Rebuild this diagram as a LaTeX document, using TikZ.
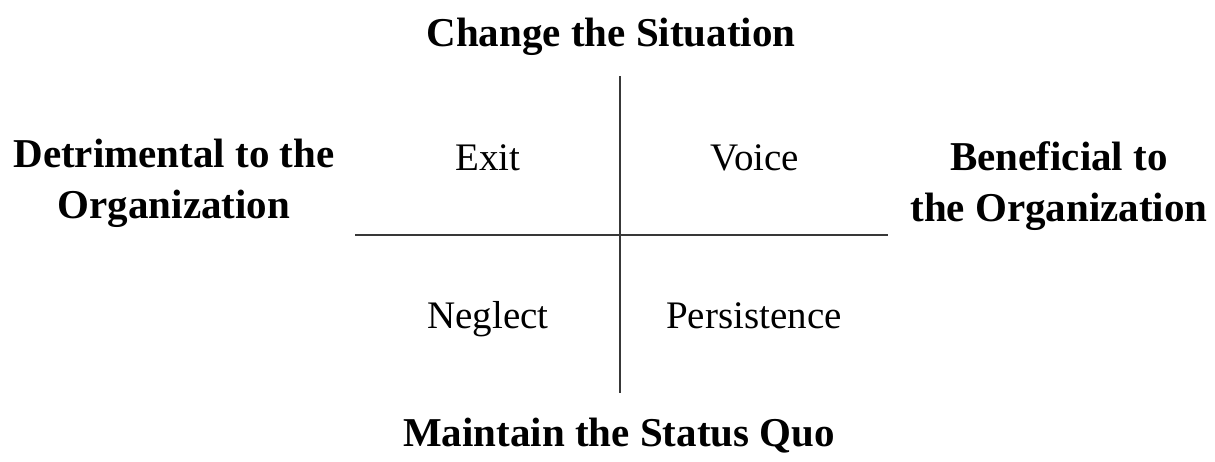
\documentclass[tikz,border=0pt]{standalone}
\usepackage{fontspec}
\setmainfont{Liberation Serif}
\begin{document}
\begin{tikzpicture}[x=1pt,y=-1pt,
  axis/.style={draw=black!78,line width=1.6pt},
  heading/.style={font=\fontsize{41}{51}\selectfont\bfseries,anchor=base,align=center,inner sep=0pt},
  cell/.style={font=\fontsize{39}{46}\selectfont,anchor=base,inner sep=0pt}]
  \useasboundingbox (0,0) rectangle (1215,461);
  % axes
  \coordinate (vtop) at (620,76);
  \coordinate (vbot) at (620,393);
  \coordinate (hl) at (355,235);
  \coordinate (hr) at (888,235);
  \draw[axis] (vtop) -- (vbot);
  \draw[axis] (hl) -- (hr);
  % axis headings
  \node[heading] (change) at (611,46) {Change the Situation};
  \node[heading] (maintain) at (619,446) {Maintain the Status Quo};
  \node[heading] (detr) at (174,218) {Detrimental to the\\Organization};
  \node[heading] (bene) at (1059,221) {Beneficial to\\the Organization};
  % quadrants
  \node[cell] (exit) at (488,170) {Exit};
  \node[cell] (voice) at (755,170) {Voice};
  \node[cell] (neglect) at (488,328) {Neglect};
  \node[cell] (persist) at (754,328) {Persistence};
\end{tikzpicture}
\end{document}
